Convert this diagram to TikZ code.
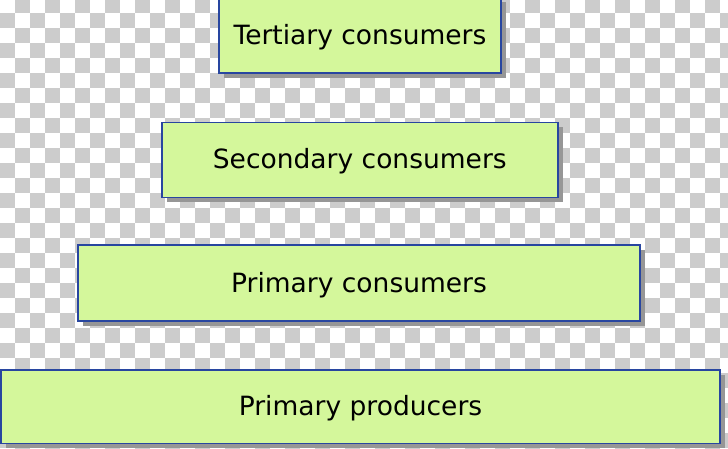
\documentclass[tikz,border=0pt]{standalone}
\usepackage{fontspec}
\setmainfont{DejaVu Sans}
\usetikzlibrary{shadows}
\definecolor{checkgray}{RGB}{204,204,204}
\definecolor{boxfill}{RGB}{212,247,155}
\definecolor{boxline}{RGB}{40,70,160}
\definecolor{shadowgray}{RGB}{150,150,150}
\tikzset{
  level/.style={rectangle, draw=boxline, line width=1.5pt, fill=boxfill,
    font=\fontsize{26.5}{30}\selectfont, text=black, inner sep=0pt,
    text height=20pt, text depth=2pt,
    drop shadow={shadow xshift=5pt, shadow yshift=-5pt, fill=shadowgray, opacity=1}},
  cell/.style={fill=checkgray}
}
\begin{document}
\begin{tikzpicture}[x=1pt,y=-1pt]
\useasboundingbox (0,0) rectangle (728,448);
\fill[white] (0,0) rectangle (728,448);
\begin{scope}
\clip (0,0) rectangle (728,448);
\foreach \r in {0,...,30}{
  \pgfmathtruncatemacro\s{mod(\r+1,2)}
  \foreach \k in {0,...,24}{
    \fill[cell] ({(2*\k+\s)*15},{\r*15-2}) rectangle ++(15,15);
  }
}
\node[level, minimum width=282pt, minimum height=76pt] (tert) at (360,35) {Tertiary consumers};
\node[level, minimum width=396pt, minimum height=75pt] (sec) at (359.8,159.8) {Secondary consumers};
\node[level, minimum width=562pt, minimum height=76pt] (prim) at (359,283) {Primary consumers};
\node[level, minimum width=719pt, minimum height=73.5pt] (prod) at (360.5,406.7) {Primary producers};
\end{scope}
\end{tikzpicture}
\end{document}
